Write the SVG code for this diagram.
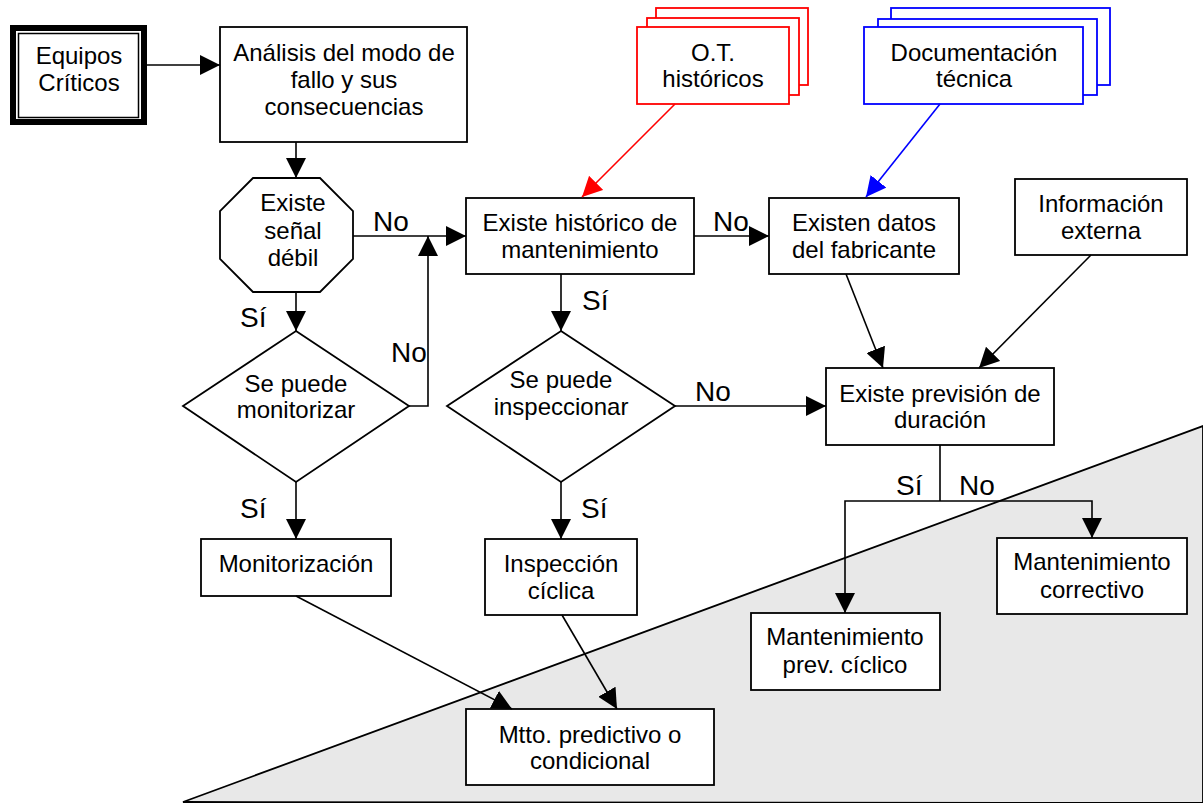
<svg xmlns="http://www.w3.org/2000/svg" width="1203" height="803" viewBox="0 0 1203 803">
<style>
.box{fill:#fff;stroke:#000;stroke-width:1.8}
.t{font-family:"Liberation Sans",Arial,sans-serif;font-size:24px;fill:#000;text-anchor:middle}
.lbl{font-family:"Liberation Sans",Arial,sans-serif;font-size:28px;fill:#000}
.c{fill:none;stroke:#000;stroke-width:1.6}
</style>
<defs>
<marker id="ah" markerUnits="userSpaceOnUse" markerWidth="20" markerHeight="20" refX="20" refY="10" orient="auto" viewBox="0 0 20 20"><path d="M0,0 L20,10 L0,20 z" fill="#000"/></marker>
<marker id="ahr" markerUnits="userSpaceOnUse" markerWidth="20" markerHeight="20" refX="20" refY="10" orient="auto" viewBox="0 0 20 20"><path d="M0,0 L20,10 L0,20 z" fill="#f00"/></marker>
<marker id="ahb" markerUnits="userSpaceOnUse" markerWidth="20" markerHeight="20" refX="20" refY="10" orient="auto" viewBox="0 0 20 20"><path d="M0,0 L20,10 L0,20 z" fill="#00f"/></marker>
</defs>
<rect width="1203" height="803" fill="#fff"/>
<polygon points="183,802 1203,426 1203,803" fill="#e8e8e8" stroke="#000" stroke-width="1.8"/>

<g id="equipos">
<rect x="13" y="28" width="131" height="94" fill="#fff" stroke="#000" stroke-width="6"/>
<rect x="18.5" y="33.5" width="120" height="84" fill="none" stroke="#000" stroke-width="1.5"/>
<text class="t" x="79" y="64">Equipos</text>
<text class="t" x="79" y="91">Críticos</text>
</g>
<g id="analisis">
<rect class="box" x="220" y="27" width="247" height="115"/>
<text class="t" x="344" y="61">Análisis del modo de</text>
<text class="t" x="344" y="88">fallo y sus</text>
<text class="t" x="344" y="115">consecuencias</text>
</g>
<g id="senal">
<polygon class="box" points="253,178 320,178 353,211 353,259 320,292 253,292 220,259 220,211"/>
<text class="t" x="293" y="211">Existe</text>
<text class="t" x="293" y="239">señal</text>
<text class="t" x="293" y="266">débil</text>
</g>
<g id="monitorizar">
<polygon class="box" points="296,331 409,406 296,482 183,406"/>
<text class="t" x="296" y="392">Se puede</text>
<text class="t" x="296" y="418">monitorizar</text>
</g>
<g id="monitorizacion">
<rect class="box" x="201" y="539" width="190" height="57"/>
<text class="t" x="296" y="572">Monitorización</text>
</g>
<g id="ot">
<rect x="656" y="8" width="152" height="77" fill="#fff" stroke="#f00" stroke-width="1.8"/>
<rect x="647" y="18" width="152" height="77" fill="#fff" stroke="#f00" stroke-width="1.8"/>
<rect x="637" y="27" width="152" height="77" fill="#fff" stroke="#f00" stroke-width="1.8"/>
<text class="t" x="713" y="61">O.T.</text>
<text class="t" x="713" y="87">históricos</text>
</g>
<g id="doc">
<rect x="891" y="8" width="219" height="77" fill="#fff" stroke="#00f" stroke-width="1.8"/>
<rect x="878" y="19" width="219" height="76" fill="#fff" stroke="#00f" stroke-width="1.8"/>
<rect x="864" y="27" width="219" height="77" fill="#fff" stroke="#00f" stroke-width="1.8"/>
<text class="t" x="974" y="61">Documentación</text>
<text class="t" x="974" y="87">técnica</text>
</g>
<g id="historico">
<rect class="box" x="466" y="198" width="228" height="76"/>
<text class="t" x="580" y="231">Existe histórico de</text>
<text class="t" x="580" y="258">mantenimiento</text>
</g>
<g id="inspeccionar">
<polygon class="box" points="561,331 675,406 561,482 447,406"/>
<text class="t" x="561" y="388">Se puede</text>
<text class="t" x="561" y="415">inspeccionar</text>
</g>
<g id="inspeccion">
<rect class="box" x="485" y="539" width="152" height="76"/>
<text class="t" x="561" y="572">Inspección</text>
<text class="t" x="561" y="599">cíclica</text>
</g>
<g id="mtto">
<rect class="box" x="466" y="709" width="248" height="76"/>
<text class="t" x="590" y="743">Mtto. predictivo o</text>
<text class="t" x="590" y="769">condicional</text>
</g>
<g id="fabricante">
<rect class="box" x="769" y="198" width="190" height="76"/>
<text class="t" x="864" y="231">Existen datos</text>
<text class="t" x="864" y="258">del fabricante</text>
</g>
<g id="externa">
<rect class="box" x="1015" y="179" width="172" height="76"/>
<text class="t" x="1101" y="212">Información</text>
<text class="t" x="1101" y="239">externa</text>
</g>
<g id="prevision">
<rect class="box" x="826" y="368" width="228" height="77"/>
<text class="t" x="940" y="402">Existe previsión de</text>
<text class="t" x="940" y="428">duración</text>
</g>
<g id="prevciclico">
<rect class="box" x="751" y="613" width="189" height="77"/>
<text class="t" x="845" y="645">Mantenimiento</text>
<text class="t" x="845" y="673">prev. cíclico</text>
</g>
<g id="correctivo">
<rect class="box" x="997" y="538" width="190" height="76"/>
<text class="t" x="1092" y="570">Mantenimiento</text>
<text class="t" x="1092" y="598">correctivo</text>
</g>

<g id="connectors">
<line class="c" x1="147" y1="65" x2="220" y2="65" marker-end="url(#ah)"/>
<line class="c" x1="296" y1="142" x2="296" y2="178" marker-end="url(#ah)"/>
<line class="c" x1="296" y1="292" x2="296" y2="331" marker-end="url(#ah)"/>
<line class="c" x1="353" y1="236" x2="466" y2="236" marker-end="url(#ah)"/>
<polyline class="c" points="409,406 428,406 428,236" marker-end="url(#ah)"/>
<line class="c" x1="296" y1="482" x2="296" y2="539" marker-end="url(#ah)"/>
<line class="c" x1="694" y1="236" x2="769" y2="236" marker-end="url(#ah)"/>
<line class="c" x1="561" y1="274" x2="561" y2="331" marker-end="url(#ah)"/>
<line class="c" x1="675" y1="406" x2="826" y2="406" marker-end="url(#ah)"/>
<line class="c" x1="561" y1="482" x2="561" y2="539" marker-end="url(#ah)"/>
<line class="c" x1="296" y1="596" x2="512" y2="709" marker-end="url(#ah)"/>
<line class="c" x1="562" y1="615" x2="617" y2="709" marker-end="url(#ah)"/>
<line x1="675" y1="104" x2="582" y2="197" stroke="#f00" stroke-width="1.6" marker-end="url(#ahr)"/>
<line x1="940" y1="104" x2="866" y2="197" stroke="#00f" stroke-width="1.6" marker-end="url(#ahb)"/>
<line class="c" x1="846" y1="274" x2="883" y2="368" marker-end="url(#ah)"/>
<line class="c" x1="1091" y1="255" x2="979" y2="368" marker-end="url(#ah)"/>
<polyline class="c" points="940,445 940,501"/>
<polyline class="c" points="940,501 845,501 845,613" marker-end="url(#ah)"/>
<polyline class="c" points="940,501 1092,501 1092,538" marker-end="url(#ah)"/>
<text class="lbl" x="373" y="231">No</text>
<text class="lbl" x="391" y="362">No</text>
<text class="lbl" x="240" y="327">Sí</text>
<text class="lbl" x="713" y="231">No</text>
<text class="lbl" x="582" y="310">Sí</text>
<text class="lbl" x="695" y="401">No</text>
<text class="lbl" x="240" y="518">Sí</text>
<text class="lbl" x="581" y="518">Sí</text>
<text class="lbl" x="896" y="495">Sí</text>
<text class="lbl" x="959" y="495">No</text>
</g>
</svg>
